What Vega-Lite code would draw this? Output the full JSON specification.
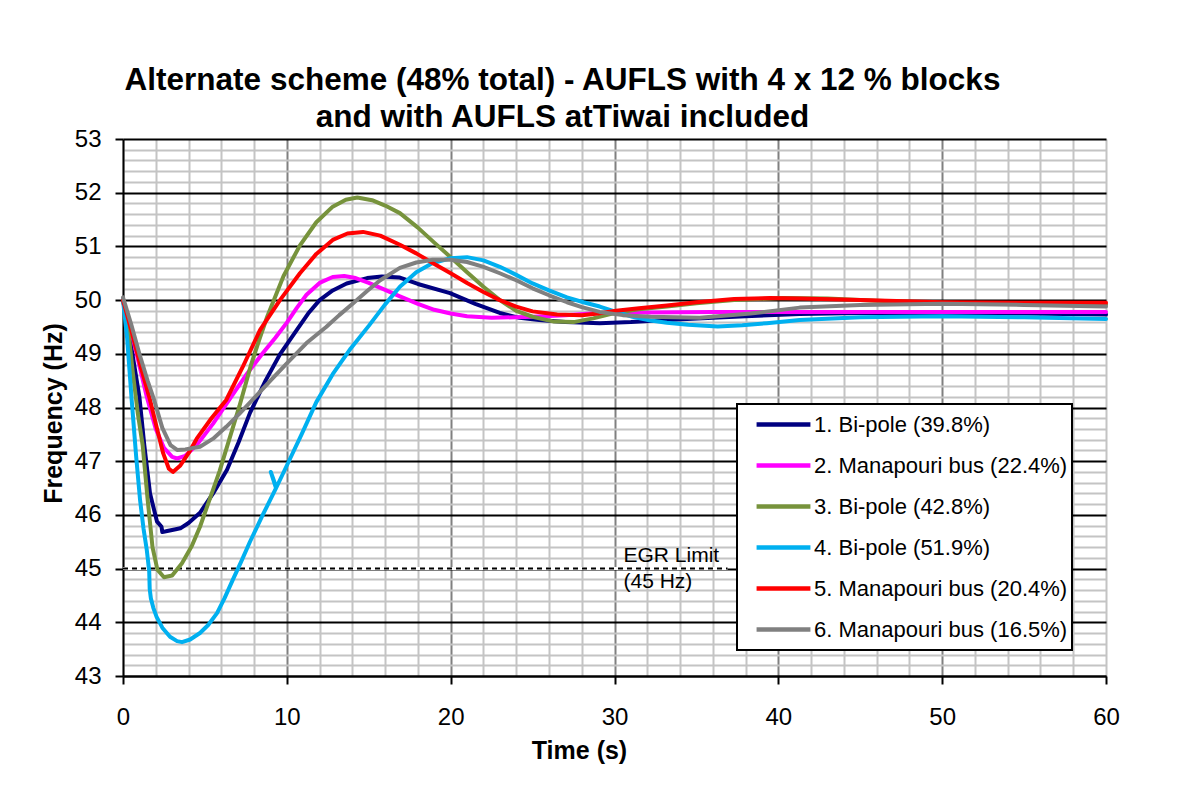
{
  "$schema": "https://vega.github.io/schema/vega-lite/v6.json",
  "width": 983,
  "height": 537,
  "autosize": {"type": "none"},
  "padding": {"left": 123, "top": 139, "right": 87, "bottom": 116},
  "background": "white",
  "title": {
    "text": ["Alternate scheme (48% total) - AUFLS  with 4 x 12 % blocks", "and with AUFLS atTiwai included"],
    "anchor": "middle",
    "frame": "group",
    "dx": -52,
    "dy": 11,
    "offset": 5,
    "font": "Liberation Sans",
    "fontSize": 31.5,
    "fontWeight": "bold",
    "lineHeight": 37,
    "color": "black"
  },
  "config": {
    "view": {"stroke": null},
    "font": "Liberation Sans",
    "legend": {"strokeWidth": 2}
  },
  "datasets": {
    "egrLine": [{"t": 0, "t2": 36.9, "f": 45}],
    "egrText": [{"t": 30.55, "f": 45, "label": "EGR Limit\n(45 Hz)"}],
    "curves": [
      {"s": "1. Bi-pole (39.8%)", "t": 0, "f": 50},
      {"s": "1. Bi-pole (39.8%)", "t": 0.3, "f": 49.55},
      {"s": "1. Bi-pole (39.8%)", "t": 0.6, "f": 48.95},
      {"s": "1. Bi-pole (39.8%)", "t": 1.0, "f": 48.2},
      {"s": "1. Bi-pole (39.8%)", "t": 1.3, "f": 47.3},
      {"s": "1. Bi-pole (39.8%)", "t": 1.65, "f": 46.4},
      {"s": "1. Bi-pole (39.8%)", "t": 2.07, "f": 45.88},
      {"s": "1. Bi-pole (39.8%)", "t": 2.35, "f": 45.78},
      {"s": "1. Bi-pole (39.8%)", "t": 2.4, "f": 45.68},
      {"s": "1. Bi-pole (39.8%)", "t": 2.7, "f": 45.7},
      {"s": "1. Bi-pole (39.8%)", "t": 3.0, "f": 45.72},
      {"s": "1. Bi-pole (39.8%)", "t": 3.5, "f": 45.75},
      {"s": "1. Bi-pole (39.8%)", "t": 4.0, "f": 45.85},
      {"s": "1. Bi-pole (39.8%)", "t": 4.7, "f": 46.04},
      {"s": "1. Bi-pole (39.8%)", "t": 5.5, "f": 46.4},
      {"s": "1. Bi-pole (39.8%)", "t": 6.35, "f": 46.84},
      {"s": "1. Bi-pole (39.8%)", "t": 7.05, "f": 47.35},
      {"s": "1. Bi-pole (39.8%)", "t": 7.75, "f": 47.9},
      {"s": "1. Bi-pole (39.8%)", "t": 8.7, "f": 48.5},
      {"s": "1. Bi-pole (39.8%)", "t": 9.6, "f": 49.0},
      {"s": "1. Bi-pole (39.8%)", "t": 10.6, "f": 49.44},
      {"s": "1. Bi-pole (39.8%)", "t": 11.3, "f": 49.75},
      {"s": "1. Bi-pole (39.8%)", "t": 12.0, "f": 50.0},
      {"s": "1. Bi-pole (39.8%)", "t": 12.8, "f": 50.18},
      {"s": "1. Bi-pole (39.8%)", "t": 13.65, "f": 50.31},
      {"s": "1. Bi-pole (39.8%)", "t": 14.9, "f": 50.41},
      {"s": "1. Bi-pole (39.8%)", "t": 15.8, "f": 50.44},
      {"s": "1. Bi-pole (39.8%)", "t": 16.9, "f": 50.42},
      {"s": "1. Bi-pole (39.8%)", "t": 18.0, "f": 50.3},
      {"s": "1. Bi-pole (39.8%)", "t": 19.96, "f": 50.13},
      {"s": "1. Bi-pole (39.8%)", "t": 21.5, "f": 49.93},
      {"s": "1. Bi-pole (39.8%)", "t": 23.0, "f": 49.76},
      {"s": "1. Bi-pole (39.8%)", "t": 24.2, "f": 49.67},
      {"s": "1. Bi-pole (39.8%)", "t": 25.4, "f": 49.63},
      {"s": "1. Bi-pole (39.8%)", "t": 27.0, "f": 49.59},
      {"s": "1. Bi-pole (39.8%)", "t": 29.1, "f": 49.57},
      {"s": "1. Bi-pole (39.8%)", "t": 31.0, "f": 49.59},
      {"s": "1. Bi-pole (39.8%)", "t": 33.2, "f": 49.63},
      {"s": "1. Bi-pole (39.8%)", "t": 36.0, "f": 49.67},
      {"s": "1. Bi-pole (39.8%)", "t": 38.0, "f": 49.7},
      {"s": "1. Bi-pole (39.8%)", "t": 41.3, "f": 49.74},
      {"s": "1. Bi-pole (39.8%)", "t": 45, "f": 49.76},
      {"s": "1. Bi-pole (39.8%)", "t": 50, "f": 49.76},
      {"s": "1. Bi-pole (39.8%)", "t": 55, "f": 49.75},
      {"s": "1. Bi-pole (39.8%)", "t": 60, "f": 49.73},

      {"s": "2. Manapouri bus (22.4%)", "t": 0, "f": 50},
      {"s": "2. Manapouri bus (22.4%)", "t": 0.5, "f": 49.42},
      {"s": "2. Manapouri bus (22.4%)", "t": 1.0, "f": 48.78},
      {"s": "2. Manapouri bus (22.4%)", "t": 1.45, "f": 48.2},
      {"s": "2. Manapouri bus (22.4%)", "t": 2.0, "f": 47.6},
      {"s": "2. Manapouri bus (22.4%)", "t": 2.5, "f": 47.25},
      {"s": "2. Manapouri bus (22.4%)", "t": 3.0, "f": 47.08},
      {"s": "2. Manapouri bus (22.4%)", "t": 3.3, "f": 47.05},
      {"s": "2. Manapouri bus (22.4%)", "t": 3.8, "f": 47.1},
      {"s": "2. Manapouri bus (22.4%)", "t": 4.5, "f": 47.3},
      {"s": "2. Manapouri bus (22.4%)", "t": 5.5, "f": 47.7},
      {"s": "2. Manapouri bus (22.4%)", "t": 6.5, "f": 48.15},
      {"s": "2. Manapouri bus (22.4%)", "t": 7.5, "f": 48.6},
      {"s": "2. Manapouri bus (22.4%)", "t": 8.5, "f": 49.0},
      {"s": "2. Manapouri bus (22.4%)", "t": 9.3, "f": 49.3},
      {"s": "2. Manapouri bus (22.4%)", "t": 10.0, "f": 49.58},
      {"s": "2. Manapouri bus (22.4%)", "t": 10.6, "f": 49.85},
      {"s": "2. Manapouri bus (22.4%)", "t": 11.2, "f": 50.1},
      {"s": "2. Manapouri bus (22.4%)", "t": 12.0, "f": 50.32},
      {"s": "2. Manapouri bus (22.4%)", "t": 12.8, "f": 50.43},
      {"s": "2. Manapouri bus (22.4%)", "t": 13.5, "f": 50.45},
      {"s": "2. Manapouri bus (22.4%)", "t": 14.2, "f": 50.41},
      {"s": "2. Manapouri bus (22.4%)", "t": 15.0, "f": 50.32},
      {"s": "2. Manapouri bus (22.4%)", "t": 16.0, "f": 50.19},
      {"s": "2. Manapouri bus (22.4%)", "t": 16.9, "f": 50.07},
      {"s": "2. Manapouri bus (22.4%)", "t": 18.0, "f": 49.93},
      {"s": "2. Manapouri bus (22.4%)", "t": 19.0, "f": 49.82},
      {"s": "2. Manapouri bus (22.4%)", "t": 20.0, "f": 49.75},
      {"s": "2. Manapouri bus (22.4%)", "t": 21.0, "f": 49.7},
      {"s": "2. Manapouri bus (22.4%)", "t": 22.5, "f": 49.67},
      {"s": "2. Manapouri bus (22.4%)", "t": 25.0, "f": 49.69},
      {"s": "2. Manapouri bus (22.4%)", "t": 27.0, "f": 49.72},
      {"s": "2. Manapouri bus (22.4%)", "t": 29.0, "f": 49.76},
      {"s": "2. Manapouri bus (22.4%)", "t": 32, "f": 49.77},
      {"s": "2. Manapouri bus (22.4%)", "t": 36, "f": 49.78},
      {"s": "2. Manapouri bus (22.4%)", "t": 40, "f": 49.78},
      {"s": "2. Manapouri bus (22.4%)", "t": 50, "f": 49.78},
      {"s": "2. Manapouri bus (22.4%)", "t": 60, "f": 49.78},

      {"s": "3. Bi-pole (42.8%)", "t": 0, "f": 50},
      {"s": "3. Bi-pole (42.8%)", "t": 0.3, "f": 49.5},
      {"s": "3. Bi-pole (42.8%)", "t": 0.6, "f": 48.65},
      {"s": "3. Bi-pole (42.8%)", "t": 0.9, "f": 47.9},
      {"s": "3. Bi-pole (42.8%)", "t": 1.2, "f": 47.3},
      {"s": "3. Bi-pole (42.8%)", "t": 1.5, "f": 46.3},
      {"s": "3. Bi-pole (42.8%)", "t": 1.8, "f": 45.4},
      {"s": "3. Bi-pole (42.8%)", "t": 2.1, "f": 44.98},
      {"s": "3. Bi-pole (42.8%)", "t": 2.5, "f": 44.84},
      {"s": "3. Bi-pole (42.8%)", "t": 3.0, "f": 44.87},
      {"s": "3. Bi-pole (42.8%)", "t": 3.6, "f": 45.1},
      {"s": "3. Bi-pole (42.8%)", "t": 4.2, "f": 45.42},
      {"s": "3. Bi-pole (42.8%)", "t": 4.7, "f": 45.78},
      {"s": "3. Bi-pole (42.8%)", "t": 5.3, "f": 46.3},
      {"s": "3. Bi-pole (42.8%)", "t": 5.9, "f": 46.82},
      {"s": "3. Bi-pole (42.8%)", "t": 6.5, "f": 47.42},
      {"s": "3. Bi-pole (42.8%)", "t": 7.1, "f": 48.02},
      {"s": "3. Bi-pole (42.8%)", "t": 7.8, "f": 48.78},
      {"s": "3. Bi-pole (42.8%)", "t": 8.36, "f": 49.3},
      {"s": "3. Bi-pole (42.8%)", "t": 8.8, "f": 49.69},
      {"s": "3. Bi-pole (42.8%)", "t": 9.8, "f": 50.45},
      {"s": "3. Bi-pole (42.8%)", "t": 10.8, "f": 51.02},
      {"s": "3. Bi-pole (42.8%)", "t": 11.8, "f": 51.45},
      {"s": "3. Bi-pole (42.8%)", "t": 12.8, "f": 51.74},
      {"s": "3. Bi-pole (42.8%)", "t": 13.6, "f": 51.87},
      {"s": "3. Bi-pole (42.8%)", "t": 14.3, "f": 51.91},
      {"s": "3. Bi-pole (42.8%)", "t": 15.2, "f": 51.86},
      {"s": "3. Bi-pole (42.8%)", "t": 16.0, "f": 51.76},
      {"s": "3. Bi-pole (42.8%)", "t": 16.9, "f": 51.62},
      {"s": "3. Bi-pole (42.8%)", "t": 18.0, "f": 51.35},
      {"s": "3. Bi-pole (42.8%)", "t": 19.0, "f": 51.07},
      {"s": "3. Bi-pole (42.8%)", "t": 20.0, "f": 50.8},
      {"s": "3. Bi-pole (42.8%)", "t": 21.0, "f": 50.52},
      {"s": "3. Bi-pole (42.8%)", "t": 22.0, "f": 50.25},
      {"s": "3. Bi-pole (42.8%)", "t": 23.0, "f": 50.0},
      {"s": "3. Bi-pole (42.8%)", "t": 24.0, "f": 49.8},
      {"s": "3. Bi-pole (42.8%)", "t": 25.0, "f": 49.69},
      {"s": "3. Bi-pole (42.8%)", "t": 26.3, "f": 49.6},
      {"s": "3. Bi-pole (42.8%)", "t": 27.5, "f": 49.59},
      {"s": "3. Bi-pole (42.8%)", "t": 28.7, "f": 49.66},
      {"s": "3. Bi-pole (42.8%)", "t": 30.0, "f": 49.76},
      {"s": "3. Bi-pole (42.8%)", "t": 31.5, "f": 49.83},
      {"s": "3. Bi-pole (42.8%)", "t": 33.2, "f": 49.88},
      {"s": "3. Bi-pole (42.8%)", "t": 35.0, "f": 49.94},
      {"s": "3. Bi-pole (42.8%)", "t": 37.3, "f": 50.0},
      {"s": "3. Bi-pole (42.8%)", "t": 40.3, "f": 50.04},
      {"s": "3. Bi-pole (42.8%)", "t": 43, "f": 50.03},
      {"s": "3. Bi-pole (42.8%)", "t": 46, "f": 49.99},
      {"s": "3. Bi-pole (42.8%)", "t": 50, "f": 49.95},
      {"s": "3. Bi-pole (42.8%)", "t": 55, "f": 49.93},
      {"s": "3. Bi-pole (42.8%)", "t": 60, "f": 49.92},

      {"s": "4. Bi-pole (51.9%)", "t": 0, "f": 50},
      {"s": "4. Bi-pole (51.9%)", "t": 0.25, "f": 49.3},
      {"s": "4. Bi-pole (51.9%)", "t": 0.53, "f": 48.14},
      {"s": "4. Bi-pole (51.9%)", "t": 0.8, "f": 47.1},
      {"s": "4. Bi-pole (51.9%)", "t": 1.04, "f": 46.28},
      {"s": "4. Bi-pole (51.9%)", "t": 1.25, "f": 45.75},
      {"s": "4. Bi-pole (51.9%)", "t": 1.45, "f": 45.35},
      {"s": "4. Bi-pole (51.9%)", "t": 1.6, "f": 44.95},
      {"s": "4. Bi-pole (51.9%)", "t": 1.63, "f": 44.62},
      {"s": "4. Bi-pole (51.9%)", "t": 1.7, "f": 44.45},
      {"s": "4. Bi-pole (51.9%)", "t": 1.85, "f": 44.27},
      {"s": "4. Bi-pole (51.9%)", "t": 2.05, "f": 44.1},
      {"s": "4. Bi-pole (51.9%)", "t": 2.4, "f": 43.9},
      {"s": "4. Bi-pole (51.9%)", "t": 2.87, "f": 43.73},
      {"s": "4. Bi-pole (51.9%)", "t": 3.3, "f": 43.65},
      {"s": "4. Bi-pole (51.9%)", "t": 3.6, "f": 43.63},
      {"s": "4. Bi-pole (51.9%)", "t": 4.1, "f": 43.68},
      {"s": "4. Bi-pole (51.9%)", "t": 4.7, "f": 43.8},
      {"s": "4. Bi-pole (51.9%)", "t": 5.2, "f": 43.95},
      {"s": "4. Bi-pole (51.9%)", "t": 5.74, "f": 44.17},
      {"s": "4. Bi-pole (51.9%)", "t": 6.2, "f": 44.45},
      {"s": "4. Bi-pole (51.9%)", "t": 6.7, "f": 44.79},
      {"s": "4. Bi-pole (51.9%)", "t": 7.2, "f": 45.12},
      {"s": "4. Bi-pole (51.9%)", "t": 7.75, "f": 45.5},
      {"s": "4. Bi-pole (51.9%)", "t": 8.5, "f": 45.98},
      {"s": "4. Bi-pole (51.9%)", "t": 9.34, "f": 46.5},
      {"s": "4. Bi-pole (51.9%)", "t": 9.02, "f": 46.8},
      {"s": "4. Bi-pole (51.9%)", "t": 9.36, "f": 46.51},
      {"s": "4. Bi-pole (51.9%)", "t": 10.0, "f": 46.92},
      {"s": "4. Bi-pole (51.9%)", "t": 10.9, "f": 47.5},
      {"s": "4. Bi-pole (51.9%)", "t": 11.8, "f": 48.1},
      {"s": "4. Bi-pole (51.9%)", "t": 12.8, "f": 48.62},
      {"s": "4. Bi-pole (51.9%)", "t": 13.9, "f": 49.1},
      {"s": "4. Bi-pole (51.9%)", "t": 15.0, "f": 49.52},
      {"s": "4. Bi-pole (51.9%)", "t": 16.0, "f": 49.92},
      {"s": "4. Bi-pole (51.9%)", "t": 16.9, "f": 50.25},
      {"s": "4. Bi-pole (51.9%)", "t": 17.9, "f": 50.52},
      {"s": "4. Bi-pole (51.9%)", "t": 18.9, "f": 50.69},
      {"s": "4. Bi-pole (51.9%)", "t": 20.0, "f": 50.78},
      {"s": "4. Bi-pole (51.9%)", "t": 21.0, "f": 50.8},
      {"s": "4. Bi-pole (51.9%)", "t": 22.0, "f": 50.74},
      {"s": "4. Bi-pole (51.9%)", "t": 23.0, "f": 50.62},
      {"s": "4. Bi-pole (51.9%)", "t": 24.0, "f": 50.47},
      {"s": "4. Bi-pole (51.9%)", "t": 25.0, "f": 50.31},
      {"s": "4. Bi-pole (51.9%)", "t": 26.0, "f": 50.18},
      {"s": "4. Bi-pole (51.9%)", "t": 27.1, "f": 50.05},
      {"s": "4. Bi-pole (51.9%)", "t": 28.1, "f": 49.96},
      {"s": "4. Bi-pole (51.9%)", "t": 29.1, "f": 49.88},
      {"s": "4. Bi-pole (51.9%)", "t": 30.1, "f": 49.78},
      {"s": "4. Bi-pole (51.9%)", "t": 31.1, "f": 49.69},
      {"s": "4. Bi-pole (51.9%)", "t": 32.2, "f": 49.62},
      {"s": "4. Bi-pole (51.9%)", "t": 33.2, "f": 49.58},
      {"s": "4. Bi-pole (51.9%)", "t": 34.5, "f": 49.54},
      {"s": "4. Bi-pole (51.9%)", "t": 36.3, "f": 49.51},
      {"s": "4. Bi-pole (51.9%)", "t": 37.8, "f": 49.53},
      {"s": "4. Bi-pole (51.9%)", "t": 39.3, "f": 49.57},
      {"s": "4. Bi-pole (51.9%)", "t": 41.3, "f": 49.63},
      {"s": "4. Bi-pole (51.9%)", "t": 45, "f": 49.68},
      {"s": "4. Bi-pole (51.9%)", "t": 50, "f": 49.7},
      {"s": "4. Bi-pole (51.9%)", "t": 55, "f": 49.68},
      {"s": "4. Bi-pole (51.9%)", "t": 60, "f": 49.65},

      {"s": "5. Manapouri bus (20.4%)", "t": 0, "f": 50},
      {"s": "5. Manapouri bus (20.4%)", "t": 0.5, "f": 49.45},
      {"s": "5. Manapouri bus (20.4%)", "t": 1.0, "f": 48.85},
      {"s": "5. Manapouri bus (20.4%)", "t": 1.65, "f": 48.14},
      {"s": "5. Manapouri bus (20.4%)", "t": 2.0, "f": 47.7},
      {"s": "5. Manapouri bus (20.4%)", "t": 2.45, "f": 47.15},
      {"s": "5. Manapouri bus (20.4%)", "t": 2.8, "f": 46.86},
      {"s": "5. Manapouri bus (20.4%)", "t": 3.05, "f": 46.8},
      {"s": "5. Manapouri bus (20.4%)", "t": 3.5, "f": 46.92},
      {"s": "5. Manapouri bus (20.4%)", "t": 4.0, "f": 47.15},
      {"s": "5. Manapouri bus (20.4%)", "t": 4.5, "f": 47.42},
      {"s": "5. Manapouri bus (20.4%)", "t": 5.4, "f": 47.8},
      {"s": "5. Manapouri bus (20.4%)", "t": 6.3, "f": 48.14},
      {"s": "5. Manapouri bus (20.4%)", "t": 7.3, "f": 48.75},
      {"s": "5. Manapouri bus (20.4%)", "t": 8.36, "f": 49.44},
      {"s": "5. Manapouri bus (20.4%)", "t": 9.58, "f": 50.0},
      {"s": "5. Manapouri bus (20.4%)", "t": 10.8, "f": 50.5},
      {"s": "5. Manapouri bus (20.4%)", "t": 11.8, "f": 50.86},
      {"s": "5. Manapouri bus (20.4%)", "t": 12.8, "f": 51.12},
      {"s": "5. Manapouri bus (20.4%)", "t": 13.7, "f": 51.24},
      {"s": "5. Manapouri bus (20.4%)", "t": 14.65, "f": 51.27},
      {"s": "5. Manapouri bus (20.4%)", "t": 15.7, "f": 51.2},
      {"s": "5. Manapouri bus (20.4%)", "t": 16.9, "f": 51.03},
      {"s": "5. Manapouri bus (20.4%)", "t": 17.9, "f": 50.87},
      {"s": "5. Manapouri bus (20.4%)", "t": 18.9, "f": 50.69},
      {"s": "5. Manapouri bus (20.4%)", "t": 20.0, "f": 50.5},
      {"s": "5. Manapouri bus (20.4%)", "t": 21.0, "f": 50.32},
      {"s": "5. Manapouri bus (20.4%)", "t": 22.0, "f": 50.15},
      {"s": "5. Manapouri bus (20.4%)", "t": 23.0, "f": 50.0},
      {"s": "5. Manapouri bus (20.4%)", "t": 24.0, "f": 49.88},
      {"s": "5. Manapouri bus (20.4%)", "t": 25.0, "f": 49.79},
      {"s": "5. Manapouri bus (20.4%)", "t": 26.5, "f": 49.73},
      {"s": "5. Manapouri bus (20.4%)", "t": 28.0, "f": 49.72},
      {"s": "5. Manapouri bus (20.4%)", "t": 29.0, "f": 49.75},
      {"s": "5. Manapouri bus (20.4%)", "t": 30.1, "f": 49.8},
      {"s": "5. Manapouri bus (20.4%)", "t": 31.5, "f": 49.85},
      {"s": "5. Manapouri bus (20.4%)", "t": 33.2, "f": 49.9},
      {"s": "5. Manapouri bus (20.4%)", "t": 35.0, "f": 49.96},
      {"s": "5. Manapouri bus (20.4%)", "t": 37.3, "f": 50.02},
      {"s": "5. Manapouri bus (20.4%)", "t": 39.5, "f": 50.04},
      {"s": "5. Manapouri bus (20.4%)", "t": 41.3, "f": 50.03},
      {"s": "5. Manapouri bus (20.4%)", "t": 45, "f": 50.0},
      {"s": "5. Manapouri bus (20.4%)", "t": 50, "f": 49.96},
      {"s": "5. Manapouri bus (20.4%)", "t": 55, "f": 49.95},
      {"s": "5. Manapouri bus (20.4%)", "t": 60, "f": 49.95},

      {"s": "6. Manapouri bus (16.5%)", "t": 0, "f": 50.05},
      {"s": "6. Manapouri bus (16.5%)", "t": 0.5, "f": 49.55},
      {"s": "6. Manapouri bus (16.5%)", "t": 1.0, "f": 49.0},
      {"s": "6. Manapouri bus (16.5%)", "t": 1.5, "f": 48.5},
      {"s": "6. Manapouri bus (16.5%)", "t": 1.9, "f": 48.14},
      {"s": "6. Manapouri bus (16.5%)", "t": 2.4, "f": 47.62},
      {"s": "6. Manapouri bus (16.5%)", "t": 2.9, "f": 47.3},
      {"s": "6. Manapouri bus (16.5%)", "t": 3.3, "f": 47.21},
      {"s": "6. Manapouri bus (16.5%)", "t": 3.8, "f": 47.22},
      {"s": "6. Manapouri bus (16.5%)", "t": 4.7, "f": 47.27},
      {"s": "6. Manapouri bus (16.5%)", "t": 5.5, "f": 47.42},
      {"s": "6. Manapouri bus (16.5%)", "t": 6.3, "f": 47.64},
      {"s": "6. Manapouri bus (16.5%)", "t": 7.1, "f": 47.88},
      {"s": "6. Manapouri bus (16.5%)", "t": 7.9, "f": 48.14},
      {"s": "6. Manapouri bus (16.5%)", "t": 9.0, "f": 48.5},
      {"s": "6. Manapouri bus (16.5%)", "t": 10.0, "f": 48.82},
      {"s": "6. Manapouri bus (16.5%)", "t": 11.2, "f": 49.2},
      {"s": "6. Manapouri bus (16.5%)", "t": 12.4, "f": 49.5},
      {"s": "6. Manapouri bus (16.5%)", "t": 13.2, "f": 49.72},
      {"s": "6. Manapouri bus (16.5%)", "t": 14.05, "f": 49.94},
      {"s": "6. Manapouri bus (16.5%)", "t": 14.9, "f": 50.17},
      {"s": "6. Manapouri bus (16.5%)", "t": 15.7, "f": 50.37},
      {"s": "6. Manapouri bus (16.5%)", "t": 16.9, "f": 50.6},
      {"s": "6. Manapouri bus (16.5%)", "t": 17.9, "f": 50.7},
      {"s": "6. Manapouri bus (16.5%)", "t": 18.9, "f": 50.75},
      {"s": "6. Manapouri bus (16.5%)", "t": 20.0, "f": 50.75},
      {"s": "6. Manapouri bus (16.5%)", "t": 21.0, "f": 50.71},
      {"s": "6. Manapouri bus (16.5%)", "t": 22.0, "f": 50.62},
      {"s": "6. Manapouri bus (16.5%)", "t": 23.0, "f": 50.5},
      {"s": "6. Manapouri bus (16.5%)", "t": 24.0, "f": 50.37},
      {"s": "6. Manapouri bus (16.5%)", "t": 25.0, "f": 50.22},
      {"s": "6. Manapouri bus (16.5%)", "t": 26.0, "f": 50.09},
      {"s": "6. Manapouri bus (16.5%)", "t": 27.1, "f": 49.96},
      {"s": "6. Manapouri bus (16.5%)", "t": 28.0, "f": 49.87},
      {"s": "6. Manapouri bus (16.5%)", "t": 29.1, "f": 49.78},
      {"s": "6. Manapouri bus (16.5%)", "t": 30.5, "f": 49.72},
      {"s": "6. Manapouri bus (16.5%)", "t": 32.2, "f": 49.69},
      {"s": "6. Manapouri bus (16.5%)", "t": 35.2, "f": 49.67},
      {"s": "6. Manapouri bus (16.5%)", "t": 38.3, "f": 49.75},
      {"s": "6. Manapouri bus (16.5%)", "t": 41.3, "f": 49.86},
      {"s": "6. Manapouri bus (16.5%)", "t": 45, "f": 49.91},
      {"s": "6. Manapouri bus (16.5%)", "t": 50, "f": 49.93},
      {"s": "6. Manapouri bus (16.5%)", "t": 55, "f": 49.91},
      {"s": "6. Manapouri bus (16.5%)", "t": 60, "f": 49.88}
    ]
  },
  "encoding": {
    "x": {
      "field": "t", "type": "quantitative",
      "scale": {"domain": [0, 60], "nice": false, "zero": false},
      "axis": {
        "orient": "bottom",
        "values": [0, 2, 4, 6, 8, 10, 12, 14, 16, 18, 20, 22, 24, 26, 28, 30, 32, 34, 36, 38, 40, 42, 44, 46, 48, 50, 52, 54, 56, 58, 60],
        "grid": true,
        "gridColor": {"condition": {"test": "datum.value % 10 === 0 && datum.value > 0 && datum.value < 60", "value": "#808080"}, "value": "#c4c4c4"},
        "gridWidth": 2,
        "domainColor": "black",
        "domainWidth": 2,
        "ticks": true,
        "tickSize": 8,
        "tickWidth": 2,
        "tickColor": "black",
        "tickOpacity": {"condition": {"test": "datum.value % 10 === 0", "value": 1}, "value": 0},
        "labelExpr": "datum.value % 10 === 0 ? '' + datum.value : ''",
        "labelFont": "Liberation Sans",
        "labelFontSize": 24,
        "labelColor": "black",
        "labelPadding": 21,
        "labelBaseline": "top",
        "labelFlush": false,
        "labelOverlap": false,
        "title": "Time (s)",
        "titleFont": "Liberation Sans",
        "titleFontSize": 25,
        "titleFontWeight": "bold",
        "titleColor": "black",
        "titleX": 456,
        "titleY": 82,
        "titleAlign": "center",
        "titleBaseline": "alphabetic"
      }
    },
    "y": {
      "field": "f", "type": "quantitative",
      "scale": {"domain": [43, 53], "nice": false, "zero": false},
      "axis": {
        "orient": "left",
        "values": [43, 43.2, 43.4, 43.6, 43.8, 44, 44.2, 44.4, 44.6, 44.8, 45, 45.2, 45.4, 45.6, 45.8, 46, 46.2, 46.4, 46.6, 46.8, 47, 47.2, 47.4, 47.6, 47.8, 48, 48.2, 48.4, 48.6, 48.8, 49, 49.2, 49.4, 49.6, 49.8, 50, 50.2, 50.4, 50.6, 50.8, 51, 51.2, 51.4, 51.6, 51.8, 52, 52.2, 52.4, 52.6, 52.8, 53],
        "grid": true,
        "gridColor": {"condition": {"test": "abs(datum.value - round(datum.value)) < 0.01", "value": "black"}, "value": "#c4c4c4"},
        "gridWidth": 2,
        "domainColor": "black",
        "domainWidth": 2,
        "ticks": true,
        "tickSize": 8,
        "tickWidth": 2,
        "tickColor": "black",
        "tickOpacity": {"condition": {"test": "abs(datum.value - round(datum.value)) < 0.01", "value": 1}, "value": 0},
        "labelExpr": "abs(datum.value - round(datum.value)) < 0.01 ? '' + round(datum.value) : ''",
        "labelFont": "Liberation Sans",
        "labelFontSize": 24,
        "labelColor": "black",
        "labelPadding": 14,
        "labelFlush": false,
        "labelOverlap": false,
        "title": "Frequency (Hz)",
        "titleFont": "Liberation Sans",
        "titleFontSize": 25,
        "titleFontWeight": "bold",
        "titleColor": "black",
        "titleAngle": 270,
        "titleX": -62,
        "titleY": 274,
        "titleAlign": "center",
        "titleBaseline": "alphabetic"
      }
    }
  },
  "layer": [
    {
      "data": {"name": "egrLine"},
      "mark": {"type": "rule", "color": "white", "strokeWidth": 3},
      "encoding": {"x2": {"field": "t2"}}
    },
    {
      "data": {"name": "egrLine"},
      "mark": {"type": "rule", "color": "black", "strokeWidth": 2, "strokeDash": [5, 4]},
      "encoding": {"x2": {"field": "t2"}}
    },
    {
      "data": {"name": "egrText"},
      "mark": {"type": "text", "align": "left", "baseline": "middle", "dy": -13, "lineBreak": "\n", "lineHeight": 26, "font": "Liberation Sans", "fontSize": 21, "color": "black"},
      "encoding": {"text": {"field": "label"}}
    },
    {
      "data": {"name": "curves"},
      "mark": {"type": "line", "strokeWidth": 4, "strokeCap": "round", "strokeJoin": "round"},
      "encoding": {
        "order": {"value": null},
        "color": {
          "field": "s",
          "type": "nominal",
          "scale": {
            "domain": ["1. Bi-pole (39.8%)", "2. Manapouri bus (22.4%)", "3. Bi-pole (42.8%)", "4. Bi-pole (51.9%)", "5. Manapouri bus (20.4%)", "6. Manapouri bus (16.5%)"],
            "range": ["#000080", "#ff00ff", "#77933c", "#00b0f0", "#ff0000", "#808080"]
          },
          "legend": {
            "title": null,
            "orient": "none",
            "legendX": 614,
            "legendY": 265,
            "fillColor": "white",
            "strokeColor": "black",
            "padding": 4,
            "clipHeight": 33,
            "rowPadding": 8,
            "symbolOffset": 13,
            "symbolType": "stroke",
            "symbolSize": 2900,
            "symbolStrokeWidth": 4.5,
            "labelFont": "Liberation Sans",
            "labelFontSize": 22,
            "labelColor": "black",
            "labelOffset": 1,
            "labelLimit": 400
          }
        }
      }
    }
  ]
}
